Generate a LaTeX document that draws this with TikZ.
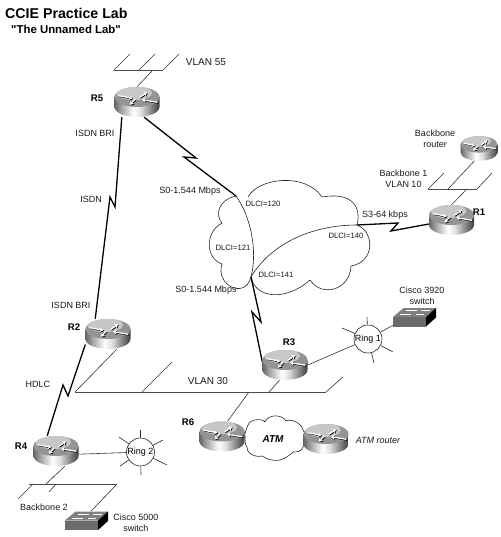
\documentclass[tikz,border=0pt]{standalone}
\usepackage{fontspec}
\setmainfont{Liberation Sans}
\newfontfamily\plainf{Liberation Sans}
\usetikzlibrary{arrows.meta,calc}
\pgfdeclarelayer{links}
\pgfsetlayers{links,main}
\pgfdeclarehorizontalshading{routerbody}{100bp}{
  color(0bp)=(black!60); color(25bp)=(black!60); color(33bp)=(black!35);
  color(46bp)=(white); color(54bp)=(black!12); color(68bp)=(black!55);
  color(75bp)=(black!75); color(100bp)=(black!75)}
\tikzset{
  routerbox/.style={rectangle,inner sep=0pt,minimum width=45pt,minimum height=30pt},
  lan/.style={draw=black!70,line width=0.8pt},
  lanlink/.style={draw=black!80,line width=0.6pt},
  wan/.style={draw=black,line width=1.3pt,line join=miter},
  cloudline/.style={draw=black!85,line width=0.6pt},
  lab/.style={font=\fontsize{9}{11}\selectfont,align=center,inner sep=0pt,text=black!90},
  dlci/.style={font=\fontsize{7.7}{9}\selectfont,inner sep=0pt,text=black!90},
  rname/.style={font=\fontsize{9.6}{11}\bfseries\selectfont,inner sep=0pt},
  vlan/.style={font=\fontsize{10}{12}\selectfont,inner sep=0pt,text=black!90},
  ring/.style={circle,draw=black!85,line width=0.6pt,fill=white,minimum size=28pt,inner sep=0pt,font=\fontsize{9}{11}\selectfont},
  spike/.style={draw=black!85,line width=0.6pt},
  marrow/.style={line width=1.3pt,-{Stealth[length=3.5pt,width=4.5pt]}}
}
% router icon drawn over its named box; #1 node name, #2 scale
\newcommand{\routericon}[2]{%
  \begin{scope}[shift={(#1)},scale=#2]
    \shade[shading=routerbody] (-22.5,-5) -- (-22.5,5) .. controls (-22.5,10.5) and (-12.4,15) .. (0,15) .. controls (12.4,15) and (22.5,10.5) .. (22.5,5) -- (22.5,-5) -- cycle;
    \fill[black!42] (0,-5) ellipse[x radius=22.5,y radius=10];
    \begin{scope}
      \clip (0,-5) ellipse[x radius=22.5,y radius=10];
      \fill[black!22] (-3,-9) ellipse[x radius=18,y radius=7];
    \end{scope}
    \begin{scope}[shift={(0.4,-4.3)}]
      \foreach \c/\o in {black/0.7,white/0}{
        \begin{scope}[shift={(\o,\o)}]
          \draw[marrow,\c] (-18.6,-2) -- (-5,0.6);
          \draw[marrow,\c] (20,4.6) -- (4.6,2);
          \draw[marrow,\c] (2.3,-0.3) -- (9.6,-5.3);
          \draw[marrow,\c] (-2,1.3) -- (-7.6,7);
        \end{scope}}
    \end{scope}
  \end{scope}}
% switch icon: #1 centre name
\newcommand{\switchicon}[1]{%
  \begin{scope}[shift={(#1)}]
    \fill[black!58] (-21.5,-0.5) rectangle (11.5,9);
    \fill[black!50] (-21.5,-0.5) -- (-11,-9.5) -- (21.5,-9.5) -- (11.5,-0.5) -- cycle;
    \fill[black] (11.5,-0.5) -- (21.5,-9.5) -- (21.5,0) -- (11.5,9) -- cycle;
    \draw[white,line width=1pt] (-15,-3) -- (-4,-3) (-9,-7) -- (2,-7) (1,-3) -- (9,-3) (6,-7) -- (15,-7);
  \end{scope}}
\begin{document}
\begin{tikzpicture}[x=1pt,y=-1pt]
\useasboundingbox (0,0) rectangle (500,537);
% ---- nodes ----
\node[routerbox] (r5) at (137,102) {};
\node[routerbox] (r1) at (451.5,220) {};
\node[routerbox,minimum width=37pt,minimum height=24pt] (bb) at (479,148.5) {};
\node[routerbox] (r2) at (108,334) {};
\node[routerbox] (r4) at (56,451) {};
\node[routerbox] (r6) at (222,436.5) {};
\node[routerbox] (r3) at (285,365) {};
\node[routerbox] (atmr) at (326,439) {};
\node[inner sep=0pt,minimum width=43pt,minimum height=19pt] (sw39) at (414.5,317.5) {};
\node[inner sep=0pt,minimum width=43pt,minimum height=19pt] (sw50) at (86.5,521) {};
\coordinate (cl1) at (236,196);
\coordinate (cl2) at (251,277);
\coordinate (cl3) at (357,225);
\node[ring] (ring1) at (368,339) {Ring 1};
\node[ring] (ring2) at (140.5,452) {Ring 2};
% LAN bus coordinates
\coordinate (b55a) at (114,70); \coordinate (b55b) at (163,70); \coordinate (b55t) at (153,70);
\coordinate (b10a) at (428,189); \coordinate (b10b) at (477,189); \coordinate (b10r) at (467,189); \coordinate (b10bb) at (448,189);
\coordinate (v30a) at (75,392); \coordinate (v30b) at (326,392); \coordinate (v30m) at (142,392); \coordinate (v30r6) at (249,392); \coordinate (v30r3) at (269,392);
\coordinate (b2a) at (29,484); \coordinate (b2b) at (117,484); \coordinate (b2r) at (46,484); \coordinate (b2t1) at (33,484); \coordinate (b2t2) at (56,484);
\coordinate (tk1) at (130,54); \coordinate (tk2) at (155,54); \coordinate (tk3) at (179,54); \coordinate (tk2b) at (139,70);
\coordinate (tk4) at (444,173); \coordinate (tk5) at (492,173);
\coordinate (tk6) at (172,362); \coordinate (tk7) at (343,377);
\coordinate (tk8) at (18,499); \coordinate (tk9) at (49,492);
\begin{pgfonlayer}{links}
  % frame relay cloud
  \draw[cloudline,fill=white] (cl1) .. controls (218,200) and (215,215) .. (222,223)
     .. controls (205,232) and (205,258) .. (222,264)
     .. controls (215,285) and (245,300) .. (cl2)
     .. controls (255,298) and (285,302) .. (310,280)
     .. controls (322,298) and (350,290) .. (351,266)
     .. controls (375,262) and (375,232) .. (cl3)
     .. controls (362,205) and (350,192) .. (322,197)
     .. controls (305,172) and (258,178) .. (248,197);
  \draw[cloudline] (cl1) .. controls (250,215) and (258,250) .. (cl2);
  \draw[cloudline] (cl2) .. controls (270,245) and (310,225) .. (cl3);
  % ATM cloud
  \draw[cloudline,fill=white] (245,438) .. controls (244,433) and (247,428) .. (248,425)
     .. controls (250,419) and (262,418) .. (265,422)
     .. controls (268,414) and (282,414) .. (286,421)
     .. controls (292,418) and (302,424) .. (303,430)
     .. controls (307,434) and (307,443) .. (303,447)
     .. controls (302,452) and (296,452) .. (293,452)
     .. controls (288,457) and (280,462) .. (272,460)
     .. controls (268,460) and (264,457) .. (262,456)
     .. controls (254,458) and (246,452) .. (247,447)
     .. controls (245,445) and (245,441) .. (245,438) -- cycle;
  % WAN links
  \draw[wan] (r5.-135) -- (115,207) -- (110,197) -- (r2.130);
  \draw[wan] (r5.-65) -- (196,158) -- (184,157) -- (cl1);
  \draw[wan] (cl2) -- (261,322) -- (252,312) -- (r3.172);
  \draw[wan] (cl3) -- (398,223) -- (391,231) -- (r1.-170);
  \draw[wan] (r2.-155) -- (68,396) -- (63,385) -- (r4.120);
  % LAN links
  \draw[lanlink] (b55t) -- (r5.90);
  \draw[lanlink] (b10r) -- (r1.90);
  \draw[lanlink] (b10bb) -- (bb.-110);
  \draw[lanlink] (v30a) -- (r2.-60);
  \draw[lanlink] (v30r6) -- (r6.70);
  \draw[lanlink] (v30r3) -- (r3.-110);
  \draw[lanlink] (b2r) -- (r4.-60);
  \draw[lanlink] (b2b) -- (sw50.65);
  \draw[lanlink] (r4.-8) -- (ring2);
  \draw[lanlink] (r3.0) -- (ring1);
  \draw[lanlink] (ring1) -- (sw39.-160);
  % LAN buses and stubs
  \draw[lan] (b55a) -- (b55b);
  \draw[lanlink] (b55a) -- (tk1) (tk2b) -- (tk2) (b55b) -- (tk3);
  \draw[lan] (b10a) -- (b10b);
  \draw[lanlink] (b10a) -- (tk4) (b10b) -- (tk5);
  \draw[lan] (v30a) -- (v30b);
  \draw[lanlink] (v30m) -- (tk6) (v30b) -- (tk7);
  \draw[lan] (b2a) -- (b2b);
  \draw[lanlink] (b2t1) -- (tk8) (b2t2) -- (tk9);
  % ring spikes
  \draw[spike] (ring1) -- ++(-1,-22) (ring1) -- ++(-26,-11) (ring1) -- ++(6,24) (ring1) -- ++(25,13);
  \draw[spike] (ring2) -- ++(0,-22) (ring2) -- ++(-21.5,-15) (ring2) -- ++(-20.5,14) (ring2) -- ++(0.5,23) (ring2) -- ++(26.5,13) (ring2) -- ++(22.5,-12);
\end{pgfonlayer}
% icons
\routericon{r5}{1}
\routericon{r1}{1}
\routericon{bb}{0.82}
\routericon{r2}{1}
\routericon{r4}{1}
\routericon{r6}{1}
\routericon{r3}{1}
\routericon{atmr}{1}
\switchicon{sw39}
\switchicon{sw50}
% labels
\node[anchor=west,inner sep=0pt,font=\fontsize{14.2}{16}\bfseries\selectfont] (t1) at (5,13) {CCIE Practice Lab};
\node[anchor=west,inner sep=0pt,font=\plainf\fontsize{11.4}{13}\bfseries\selectfont] (t2) at (11,29) {"The Unnamed Lab"};
\node[vlan] (l1) at (206,62) {VLAN 55};
\node[vlan] (l2) at (208,381) {VLAN 30};
\node[rname] (n5) at (97,98) {R5};
\node[rname] (n1) at (479,212) {R1};
\node[rname] (n2) at (74,327) {R2};
\node[rname] (n3) at (289,342) {R3};
\node[rname] (n4) at (21,446) {R4};
\node[rname] (n6) at (188,422) {R6};
\node[lab] (l3) at (95,133) {ISDN BRI};
\node[lab] (l4) at (91,199) {ISDN};
\node[lab] (l5) at (71,305) {ISDN BRI};
\node[lab] (l6) at (190,191) {S0-1.544 Mbps};
\node[lab] (l7) at (206,290) {S0-1.544 Mbps};
\node[lab] (l8) at (385,215) {S3-64 kbps};
\node[lab] (l9) at (435,138.5) {Backbone\\router};
\node[lab] (l10) at (403.5,178.5) {Backbone 1\\VLAN 10};
\node[lab] (l11) at (422,295.5) {Cisco 3920\\switch};
\node[lab] (l12) at (38,384) {HDLC};
\node[lab] (l13) at (44,507) {Backbone 2};
\node[lab] (l14) at (136,522.5) {Cisco 5000\\switch};
\node[dlci] (d1) at (263,204) {DLCI=120};
\node[dlci] (d2) at (233,248) {DLCI=121};
\node[dlci] (d3) at (346,236) {DLCI=140};
\node[dlci] (d4) at (276,275) {DLCI=141};
\node[inner sep=0pt,font=\fontsize{10}{12}\bfseries\itshape\selectfont] (atm) at (273,439) {ATM};
\node[inner sep=0pt,font=\fontsize{9}{11}\itshape\selectfont,text=black!90] (atml) at (378,440) {ATM router};
\end{tikzpicture}
\end{document}
